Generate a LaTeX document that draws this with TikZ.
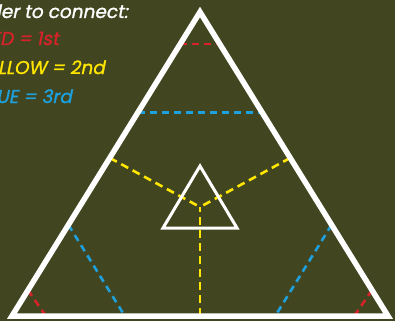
\documentclass[tikz,border=0pt]{standalone}
\usepackage{fontspec}
\usetikzlibrary{calc}
\newfontfamily\labelfont{Poppins}[FakeSlant=0.2, FakeBold=1.2]
\definecolor{bg}{HTML}{414620}
\definecolor{cred}{HTML}{D8222A}
\definecolor{cyel}{HTML}{FFE600}
\definecolor{cblu}{HTML}{1EA0DC}
\tikzset{
  outerline/.style={draw=white, line width=5.5pt, line join=miter},
  innerline/.style={draw=white, line width=3pt, line join=miter},
  cut/.style={line width=2.6pt, dash pattern=on 7pt off 5pt},
  redcut/.style={cut, draw=cred},
  yelcut/.style={cut, draw=cyel, dash pattern=on 8pt off 5pt},
  blucut/.style={cut, draw=cblu},
  legend/.style={font=\labelfont\fontsize{18.5}{22}\selectfont, inner sep=0pt, anchor=base east}
}
\begin{document}
\begin{tikzpicture}[x=1pt, y=-1pt]
\useasboundingbox (0,0) rectangle (395,321);
\fill[bg] (0,0) rectangle (395,321);
% outer triangle
\coordinate (A) at (200,12);
\coordinate (B) at (12,316);
\coordinate (C) at (388,316);
% inner triangle
\coordinate (a) at (200,166);
\coordinate (b) at (163,228);
\coordinate (c) at (237,228);
\coordinate (O) at (200,207);
% cut points
\coordinate (y1) at ($(A)!0.48!(B)$);
\coordinate (y2) at ($(A)!0.48!(C)$);
\coordinate (y3) at ($(B)!0.5!(C)$);
\coordinate (bt1) at ($(A)!0.33!(B)$);
\coordinate (bt2) at ($(A)!0.33!(C)$);
\coordinate (bl1) at ($(B)!0.30!(A)$);
\coordinate (bl2) at ($(B)!0.30!(C)$);
\coordinate (br1) at ($(C)!0.30!(A)$);
\coordinate (br2) at ($(C)!0.30!(B)$);
\coordinate (rt1) at ($(A)!0.105!(B)$);
\coordinate (rt2) at ($(A)!0.105!(C)$);
\coordinate (rl1) at ($(B)!0.085!(A)$);
\coordinate (rl2) at ($(B)!0.09!(C)$);
\coordinate (rr1) at ($(C)!0.085!(A)$);
\coordinate (rr2) at ($(C)!0.09!(B)$);
% cuts
\draw[yelcut] (y1) -- (O);
\draw[yelcut] (y2) -- (O);
\draw[yelcut] (y3) -- (O);
\draw[blucut] (bt1) -- (bt2);
\draw[blucut] (bl1) -- (bl2);
\draw[blucut] (br1) -- (br2);
\draw[redcut] (rt1) -- (rt2);
\draw[redcut] (rl1) -- (rl2);
\draw[redcut] (rr1) -- (rr2);
% triangles
\draw[outerline] (A) -- (B) -- (C) -- cycle;
\draw[innerline] (a) -- (b) -- (c) -- cycle;
% legend
\node[legend, text=white] (t0) at (128,18) {Order to connect:};
\node[legend, text=cred] (t1) at (59,45) {RED = 1st};
\node[legend, text=cyel] (t2) at (105,74) {YELLOW = 2nd};
\node[legend, text=cblu] (t3) at (72,103) {BLUE = 3rd};
\end{tikzpicture}
\end{document}
